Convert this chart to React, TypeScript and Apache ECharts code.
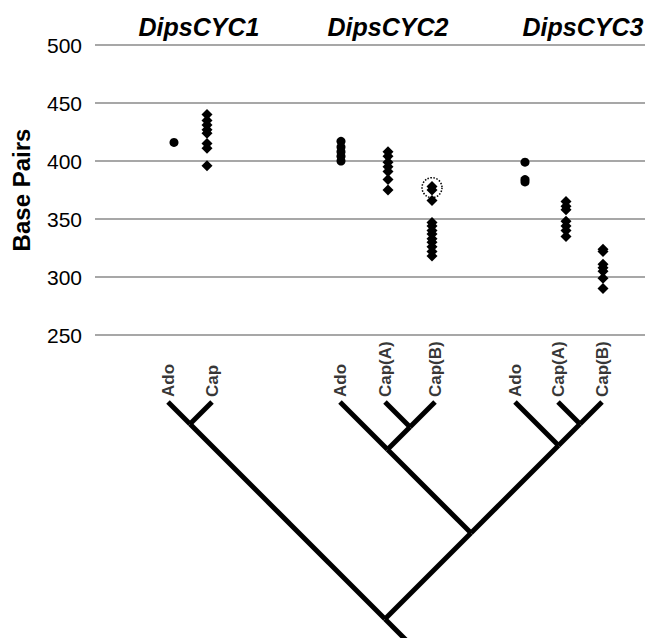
import React, { useEffect, useRef } from "react";
import * as echarts from "echarts";

// Base-pair values
const cyc1Ado = [416];
const cyc1Cap = [440, 435, 431, 427, 424, 415, 411, 396];
const cyc2Ado = [417, 412, 408, 404, 400];
const cyc2CapA = [408, 404, 399, 395, 391, 384, 375];
const cyc2CapB = [378, 375, 366, 347, 344, 340, 337, 333, 330, 326, 322, 318];
const cyc3Ado = [399, 384, 382];
const cyc3CapA = [365, 361, 358, 348, 344, 340, 335];
const cyc3CapB = [324, 322, 311, 308, 305, 299, 290];
const highlighted = [{ column: 4, value: 377 }];

// columns: horizontal position (axis units), marker type, values
const columnX = [79, 112, 246, 293, 337, 430, 471, 508];
const columnSymbol = ["circle", "diamond", "circle", "diamond", "diamond", "circle", "diamond", "diamond"];
const columnValues = [cyc1Ado, cyc1Cap, cyc2Ado, cyc2CapA, cyc2CapB, cyc3Ado, cyc3CapA, cyc3CapB];

const yTicks = [250, 300, 350, 400, 450, 500];
const geneNames = ["DipsCYC1", "DipsCYC2", "DipsCYC3"];

// tree tips
const tipNames = ["Ado", "Cap", "Ado", "Cap(A)", "Cap(B)", "Ado", "Cap(A)", "Cap(B)"];
const tipX = [73, 117, 245, 290, 340, 420, 463, 507];
const topology: any = [[0, 1], [[2, [3, 4]], [5, [6, 7]]]];

export default function App() {
  const ref = useRef<HTMLDivElement>(null);
  useEffect(() => {
    if (!ref.current) return;
    const chart = echarts.init(ref.current, null, { renderer: "svg" });
    const font = "Liberation Sans, Arial, sans-serif";

    // build tree edges: node of a clade sits at ((L+R)/2, (R-L)/2)
    const edges: any[] = [];
    const place = (n: any): { x: number; d: number; L: number; R: number } => {
      if (typeof n === "number") return { x: tipX[n], d: 0, L: tipX[n], R: tipX[n] };
      const kids = n.map(place);
      const L = Math.min(...kids.map((k: any) => k.L));
      const R = Math.max(...kids.map((k: any) => k.R));
      const me = { x: (L + R) / 2, d: (R - L) / 2, L, R };
      kids.forEach((k: any) => edges.push({ coords: [[k.x, k.d], [me.x, me.d]] }));
      return me;
    };
    const root = place(topology);
    edges.push({ coords: [[root.x, root.d], [root.x + 24, root.d + 24]] });

    const scatterSeries = columnValues.map((vals, i) => ({
      type: "scatter",
      xAxisIndex: 0,
      yAxisIndex: 0,
      symbol: columnSymbol[i],
      symbolSize: columnSymbol[i] === "circle" ? 9 : 11,
      itemStyle: { color: "#000", opacity: 1 },
      data: vals.map((v) => [columnX[i], v]),
      z: 3,
    }));

    chart.setOption({
      animation: false,
      grid: [
        { left: 95, right: 3, top: 45, height: 290 },
        { left: 95, right: 3, top: 402, height: 236 },
      ],
      xAxis: [
        { type: "value", gridIndex: 0, min: 0, max: 550, show: false },
        { type: "value", gridIndex: 1, min: 0, max: 550, show: false },
      ],
      yAxis: [
        {
          type: "value",
          gridIndex: 0,
          min: yTicks[0],
          max: yTicks[yTicks.length - 1],
          interval: 50,
          axisLine: { show: false },
          axisTick: { show: false },
          splitLine: { show: true, lineStyle: { color: "#8a8a8a", width: 1.5 } },
          axisLabel: { color: "#000", fontSize: 21, fontFamily: font, margin: 13 },
          name: "Base Pairs",
          nameLocation: "middle",
          nameRotate: 90,
          nameGap: 62,
          nameTextStyle: { color: "#000", fontSize: 24, fontWeight: "bold", fontFamily: font },
        },
        { type: "value", gridIndex: 1, min: 0, max: 236, inverse: true, show: false },
      ],
      graphic: geneNames.map((g, i) => ({
        type: "text",
        x: [199, 388, 583][i],
        y: 27,
        style: {
          text: g,
          fill: "#000",
          font: `italic bold 25px ${font}`,
          align: "center",
          verticalAlign: "middle",
        },
      })),
      series: [
        ...scatterSeries,
        {
          type: "scatter",
          xAxisIndex: 0,
          yAxisIndex: 0,
          symbol: "circle",
          symbolSize: 20,
          itemStyle: { color: "rgba(0,0,0,0)", borderColor: "#000", borderWidth: 1.5, borderType: "dotted", opacity: 1 },
          data: highlighted.map((h) => [columnX[h.column], h.value]),
          z: 4,
        },
        {
          type: "lines",
          coordinateSystem: "cartesian2d",
          xAxisIndex: 1,
          yAxisIndex: 1,
          symbol: "none",
          lineStyle: { color: "#000", width: 5, opacity: 1, cap: "butt" },
          data: edges,
          z: 2,
        },
        {
          type: "scatter",
          xAxisIndex: 1,
          yAxisIndex: 1,
          symbolSize: 0,
          data: tipNames.map((n, i) => ({ name: n, value: [tipX[i], 0] })),
          label: {
            show: true,
            formatter: "{b}",
            position: "top",
            distance: 5,
            rotate: 90,
            align: "left",
            verticalAlign: "middle",
            color: "#000",
            fontSize: 17,
            fontWeight: "bold",
            fontFamily: font,
          },
        },
      ],
    });
    return () => chart.dispose();
  }, []);
  return <div ref={ref} style={{ width: 648, height: 638, position: "absolute", left: 0, top: 0 }} />;
}
